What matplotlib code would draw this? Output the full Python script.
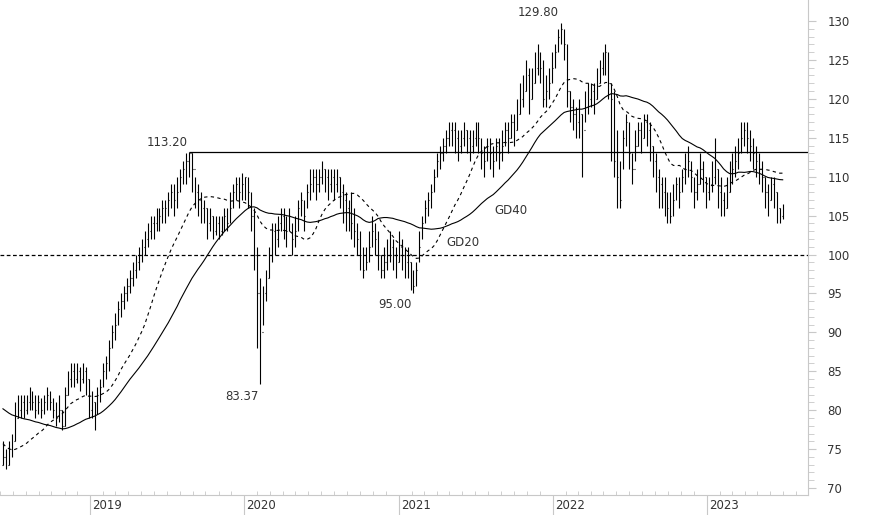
import numpy as np
import pandas as pd
import matplotlib
matplotlib.use('Agg')
import matplotlib.pyplot as plt
import matplotlib.dates as mdates
import matplotlib.transforms as mtransforms

plt.rcParams['font.family'] = ['DejaVu Sans']

# Wochenkurse (Schluss, Hoch, Tief) ab Juni 2018
close = [74, 73, 75, 76, 79, 80,
         81, 80, 81, 82, 81, 80, 81, 80, 81, 82, 81, 80, 79, 80, 78,
         82, 84, 85, 84, 85, 84, 85, 84,
         80, 81, 79, 82,
         83, 85, 86, 88, 90, 91, 93, 94, 95, 96, 97, 98, 99, 100, 101, 102, 103, 104,
         104, 105, 105, 106, 106, 107, 108, 107, 108, 110, 111, 112, 113, 111,
         108, 107, 106, 106, 104, 105, 103, 104, 103, 104, 105, 104, 106, 108, 109,
         108, 109, 110, 108, 105, 100, 95, 90, 95, 97,
         100, 103, 102, 104, 105, 104, 103, 105, 102, 103, 106, 107, 105, 108, 109, 110, 109, 110, 111, 110,
         109, 110, 109, 110, 108, 107, 106, 106,
         104, 103, 102, 100, 98, 99, 101, 103, 102, 100, 98, 99, 100, 101, 100, 99, 101, 100, 99,
         99, 97, 96, 98, 101, 104,
         106, 107, 108, 110, 112, 113, 114, 115, 116, 116, 115, 114, 115, 116,
         115, 114, 115, 116, 115, 113, 112, 114, 113, 112, 114, 113, 114, 116, 115, 117, 116, 118, 120, 121, 123, 120, 122,
         124, 125, 124, 120, 121, 122, 124, 126, 128, 129, 127,
         121, 119, 118, 117, 118, 116, 119, 120, 121, 120, 122, 124, 125, 126, 122,
         120, 112, 110, 107, 115, 117,
         113, 111, 114, 116, 115, 117, 116, 114, 112, 110, 109, 108,
         107, 106, 105, 107, 109, 108, 110, 111, 112, 110, 108, 109, 111,
         110, 108, 109, 110, 111, 108, 107, 106, 108, 110, 111, 112, 113, 115,
         116, 115, 114, 113, 112, 111, 110, 108, 107, 109, 108, 106, 105, 106]

high = [76, 75, 76, 77, 81, 82,
        82, 82, 82, 83, 82.5, 82, 82, 81.5, 82, 83, 82.5, 81.5, 81, 82, 80,
        83, 85, 86, 86, 86, 85.5, 86, 85.5,
        84, 82.5, 81, 83,
        84, 86, 87, 89, 91, 92.5, 94, 95, 96, 97, 98, 99, 100, 101, 102, 103, 104, 105,
        105, 106, 106, 107, 107, 108, 109, 109, 110, 111, 112, 113, 113.2, 113,
        110, 109, 108, 107, 106, 106, 105, 105, 105, 105, 106, 106, 108, 109, 110,
        110, 110.5, 110, 110, 108, 106, 101, 97, 96, 98,
        101, 104, 104, 105, 106, 106, 105, 106, 104, 105, 107, 108, 107, 109, 111, 111, 111, 111, 112, 111,
        111, 111, 111, 111, 110, 109, 108, 107,
        108, 106, 104, 103, 101, 101, 103, 105, 104, 103, 100, 101, 102, 103, 102, 101, 103, 102, 101,
        101, 99, 98, 99, 103, 105,
        107, 108, 109, 111, 113, 114, 115, 116, 117, 117, 117, 116, 116, 117,
        116, 116, 116, 117, 117, 115, 114, 115, 115, 114, 115, 115, 116, 117, 117, 118, 118, 120, 122, 123, 125, 124, 124,
        126, 127, 126, 125, 123, 124, 126, 127, 129, 129.8, 129,
        127, 121, 120, 119, 120, 118, 121, 122, 122, 122, 124, 125, 126, 127, 126,
        122, 121, 116, 112, 116, 118,
        117, 113, 116, 117, 117, 118, 118, 117, 114, 113, 111, 110,
        110, 108, 108, 109, 110, 110, 111, 113, 114, 112, 110, 111, 113,
        112, 110, 110, 112, 115, 111, 110, 108, 110, 112, 113, 114, 115, 117,
        117, 117, 116, 115, 114, 113, 112, 110, 109, 110, 110, 108, 106, 106.5]

low = [73, 72.5, 73, 74, 76, 79,
       79, 79, 79.5, 80, 80, 79, 79.5, 79, 79.5, 80, 80, 79, 78, 78.5, 77.5,
       78, 82, 83, 83, 83.5, 82.5, 83.5, 82,
       79, 79, 77.5, 79.5,
       81, 83, 84, 85, 88, 89, 91, 92, 93, 94, 95, 96, 97, 98, 99, 100, 101, 102,
       102, 103, 103, 104, 104, 105, 106, 105, 106, 108, 109, 109, 110, 108,
       106, 105, 104, 104, 102, 103, 102, 102.5, 102, 102.5, 103, 103, 104, 106, 107,
       106, 107, 107, 106, 103, 98, 88, 83.37, 91, 94,
       97, 99, 100, 101, 103, 102, 101, 103, 100, 101, 103, 105, 103, 106, 107, 108, 107, 108, 109, 108,
       107, 108, 107, 108, 106, 104, 103, 103,
       102, 101, 100, 98, 97, 98, 99, 101, 100, 98, 97, 97, 98, 99, 98, 97, 99, 98, 97,
       97, 95.5, 95, 96, 99, 102,
       104, 105, 106, 108, 110, 111, 112, 113, 114, 114, 113, 112, 113, 114,
       113, 112, 113, 114, 113, 111, 110, 112, 111, 110, 112, 111, 112, 114, 113, 115, 114, 116, 118, 119, 121, 118, 120,
       122, 123, 122, 119, 119, 120, 122, 124, 126, 127, 125,
       119, 117, 116, 115, 115, 110, 117, 118, 119, 118, 120, 122, 123, 123, 120,
       112, 110, 106, 106, 111, 114,
       111, 109, 112, 114, 113, 115, 114, 112, 110, 108, 106, 106,
       105, 104, 104, 105, 107, 106, 108, 109, 110, 108, 106, 107, 109,
       108, 106, 107, 108, 109, 106, 105, 105, 106, 108, 109, 110, 111, 113,
       114, 113, 112, 111, 110, 109, 108, 106, 105, 107, 106, 104, 104, 104.5]

# Schlusskurse vor dem sichtbaren Bereich (nur für die Durchschnitte)
pre_close = [85, 84, 86, 85, 84, 85, 86, 85, 84, 85, 86, 85, 84, 85, 86, 85, 84, 85, 84, 83,
             82, 81, 80, 79, 78, 77, 77, 76, 76, 75, 75, 74, 74, 75, 74, 73, 74, 75, 74, 73]

dates = pd.date_range('2018-06-08', periods=len(close), freq='7D')
s = pd.Series(pre_close + close)
gd20 = s.rolling(20).mean().values[len(pre_close):]
gd40 = s.rolling(40).mean().values[len(pre_close):]
opens = [pre_close[-1]] + close[:-1]

fig = plt.figure(figsize=(8.74, 5.15), dpi=100)
ax = fig.add_axes([0, 20 / 515, 808 / 874, 495 / 515])

x = mdates.date2num(dates)
tick = 1.3
ax.vlines(x, low, high, color='black', lw=0.8)
ax.hlines(opens, x - tick, x, color='black', lw=0.8)
ax.hlines(close, x, x + tick, color='black', lw=0.8)

ax.plot(x, gd40, color='black', lw=0.8)
ax.plot(x, gd20, color='black', lw=0.8, ls=(0, (3, 3)))

x0 = mdates.date2num(pd.Timestamp('2018-06-01'))
ax.set_xlim(x0, x0 + 1915)
ax.set_ylim(69.1, 132.7)

ax.axhline(100, color='black', lw=0.9, ls=(0, (3, 2)))
i_peak = int(np.argmax(high[:80]))
ax.hlines(113.2, x[i_peak], x0 + 1915, color='black', lw=0.9)

txt = dict(fontsize=8.5, color='#333333')
ax.text(x[i_peak] - 4, 113.5, '113.20', ha='right', va='bottom', **txt)
i_top = int(np.argmax(high))
ax.text(x[i_top] - 6, 130.3, '129.80', ha='right', va='bottom', **txt)
i_crash = int(np.argmin(low[60:120])) + 60
ax.text(x[i_crash] - 4, 82.6, '83.37', ha='right', va='top', **txt)
i_low = int(np.argmin(low[120:160])) + 120
ax.text(x[i_low] - 4, 94.4, '95.00', ha='right', va='top', **txt)
ax.text(mdates.date2num(pd.Timestamp('2021-08-15')), 105.7, 'GD40', ha='left', va='center', **txt)
ax.text(mdates.date2num(pd.Timestamp('2021-04-25')), 101.5, 'GD20', ha='left', va='center', **txt)

# Achsen
grey = '#c8c8c8'
for sp in ['left', 'top']:
    ax.spines[sp].set_visible(False)
ax.spines['right'].set_color(grey)
ax.spines['bottom'].set_color(grey)
ax.yaxis.tick_right()
ax.set_yticks(np.arange(70, 131, 5))
ax.set_yticks(np.arange(70, 131, 1), minor=True)
ax.tick_params(axis='y', which='major', length=6, color=grey, labelsize=8.5,
               labelcolor='#333333', pad=8)
ax.tick_params(axis='y', which='minor', length=4, color=grey)

years = [pd.Timestamp(f'{y}-01-01') for y in range(2019, 2024)]
ax.set_xticks(mdates.date2num(years))
ax.set_xticklabels([])
ax.xaxis.set_minor_locator(mdates.MonthLocator())
ax.tick_params(axis='x', which='major', length=20, color=grey, direction='out')
ax.tick_params(axis='x', which='minor', length=3, color=grey, direction='in')
trans = mtransforms.blended_transform_factory(ax.transData, ax.transAxes)
for y in years:
    ax.text(mdates.date2num(y) + 5, -0.008, str(y.year), transform=trans,
            ha='left', va='top', **txt)

fig.savefig('out.png', dpi=100)
